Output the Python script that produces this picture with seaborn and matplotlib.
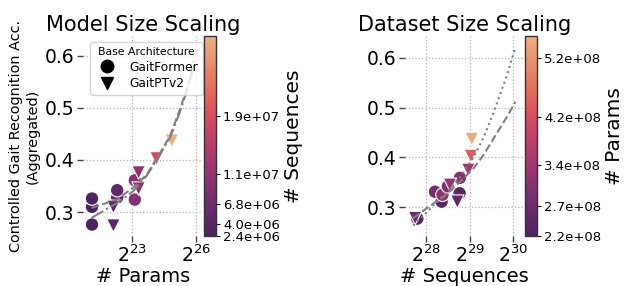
import matplotlib
matplotlib.use("Agg")
import matplotlib.pyplot as plt
from matplotlib.lines import Line2D
from matplotlib.colors import Normalize
from matplotlib.cm import ScalarMappable
from matplotlib.ticker import FormatStrFormatter
import seaborn as sns
import numpy as np
import pandas as pd

# ---- 左图 Model Size Scaling ----
arch_left = ['GaitFormer'] * 7 + ['GaitPTv2'] * 6
params_left = [2.3e6, 2.3e6, 2.3e6, 5.2e6, 5.2e6, 9.2e6, 9.2e6,
               4.6e6, 4.6e6, 1.04e7, 1.04e7, 1.86e7, 3.05e7]
acc_left = [0.276, 0.310, 0.326, 0.328, 0.342, 0.324, 0.361,
            0.274, 0.310, 0.345, 0.376, 0.403, 0.437]
# 拟合曲线
fit_x_left = [2**21.12, 2**22.29, 2**23.06, 2**23.69, 2**24.23, 2**24.78, 2**25.24, 2**25.71, 2**25.9]
fit_gf_left = [0.308, 0.324, 0.347, 0.372, 0.408, 0.446, 0.497, 0.555, 0.59]
fit_pt_left = [0.289, 0.317, 0.340, 0.370, 0.405, 0.443, 0.492, 0.552, 0.588]
cbar_ticks_left = [2.4e6, 4.0e6, 6.8e6, 1.1e7, 1.9e7]

# ---- 右图 Dataset Size Scaling ----
arch_right = ['GaitFormer'] * 7 + ['GaitPTv2'] * 6
seqs_right = [2.34e8, 3.44e8, 3.10e8, 3.49e8, 3.80e8, 4.58e8, 4.61e8,
              2.26e8, 3.93e8, 4.42e8, 5.26e8, 5.48e8, 5.56e8]
acc_right = [0.277, 0.311, 0.331, 0.325, 0.342, 0.328, 0.359,
             0.278, 0.345, 0.311, 0.375, 0.403, 0.437]
hue_right = [2.3e8, 2.35e8, 2.8e8, 3.2e8, 3.0e8, 2.4e8, 3.0e8,
             2.6e8, 3.3e8, 2.5e8, 3.4e8, 4.4e8, 5.5e8]
fit_x_right = [2**27.71, 2**28.02, 2**28.40, 2**28.78, 2**29.09, 2**29.32, 2**29.55, 2**29.86, 2**30.05]
fit_gf_right = [0.278, 0.298, 0.321, 0.351, 0.378, 0.405, 0.438, 0.482, 0.512]
fit_pt_right = [0.263, 0.290, 0.323, 0.360, 0.400, 0.440, 0.490, 0.566, 0.622]
cbar_ticks_right = [2.2e8, 2.7e8, 3.4e8, 4.2e8, 5.2e8]

cmap = sns.color_palette("flare_r", as_cmap=True)
markers = {'GaitFormer': 'o', 'GaitPTv2': 'v'}


def style_axes(ax):
    for s in ax.spines.values():
        s.set_visible(False)
    ax.set_facecolor('white')
    ax.grid(True, linestyle=':', color='#b5b5b5', linewidth=0.9)
    ax.tick_params(axis='both', which='major', length=4, width=1, color='#444444',
                   labelsize=13.5, pad=2)
    ax.minorticks_off()


def draw_panel(fig, rect, crect, x, y, hue, arch, norm, fit_x, fit_a, fit_b, ls_b,
               title, xlabel, clabel, cticks, xticks, xlim, ylim):
    ax = fig.add_axes(rect)
    df = pd.DataFrame({'x': x, 'y': y, 'hue': hue, 'arch': arch})
    sns.scatterplot(data=df, x='x', y='y', hue='hue', style='arch', markers=markers,
                    palette=cmap, hue_norm=norm, s=95, edgecolor='white', linewidth=0.8,
                    legend=False, ax=ax, zorder=3)
    ax.plot(fit_x, fit_a, linestyle='--', color='#808080', linewidth=1.5, zorder=4)
    ax.plot(fit_x, fit_b, linestyle=ls_b, color='#808080', linewidth=1.5, zorder=4)
    ax.set_xscale('log', base=2)
    ax.set_xticks(xticks)
    ax.set_xlim(*xlim)
    ax.set_ylim(*ylim)
    ax.set_yticks([0.3, 0.4, 0.5, 0.6])
    ax.set_yticklabels(['0.3', '0.4', '0.5', '0.6'])
    style_axes(ax)
    ax.set_title(title, fontsize=15, pad=4)
    ax.set_xlabel(xlabel, fontsize=14, labelpad=1)
    ax.set_ylabel('')

    cax = fig.add_axes(crect)
    sm = ScalarMappable(norm=norm, cmap=cmap)
    cb = fig.colorbar(sm, cax=cax)
    cb.set_ticks(cticks)
    cb.ax.yaxis.set_major_formatter(FormatStrFormatter('%.1e'))
    cb.ax.tick_params(labelsize=9.5, length=3, pad=2)
    cb.outline.set_edgecolor('#333333')
    cb.outline.set_linewidth(1)
    cb.set_label(clabel, fontsize=14.5, labelpad=3)
    return ax


fig = plt.figure(figsize=(6.3, 2.86), dpi=100)

ax1 = draw_panel(fig, [0.1317, 0.1748, 0.1905, 0.699], [0.3238, 0.1748, 0.019, 0.699],
                 params_left, acc_left, params_left, arch_left, Normalize(2.4e6, 3.0e7),
                 fit_x_left, fit_gf_left, fit_pt_left, '-.',
                 'Model Size Scaling', '# Params', '# Sequences', cbar_ticks_left,
                 [2**23, 2**26], (2**20.71, 2**26.32), (0.254, 0.638))
ax1.set_ylabel('Controlled Gait Recognition Acc.\n(Aggregated)', fontsize=10.4, labelpad=4)

handles = [Line2D([], [], marker='o', color='black', linestyle='', markersize=9),
           Line2D([], [], marker='v', color='black', linestyle='', markersize=9)]
leg = ax1.legend(handles, ['GaitFormer', 'GaitPTv2'], title='Base Architecture',
                 fontsize=8.8, title_fontsize=7.8, loc='upper right',
                 bbox_to_anchor=(1.0, 0.97), borderaxespad=0, handletextpad=0.8,
                 labelspacing=0.3)
leg.set_zorder(10)

ax2 = draw_panel(fig, [0.6429, 0.1748, 0.189, 0.699], [0.8333, 0.1748, 0.019, 0.699],
                 seqs_right, acc_right, hue_right, arch_right, Normalize(2.2e8, 5.56e8),
                 fit_x_right, fit_gf_right, fit_pt_right, ':',
                 'Dataset Size Scaling', '# Sequences', '# Params', cbar_ticks_right,
                 [2**28, 2**29, 2**30], (2**27.52, 2**30.25), (0.242, 0.644))

plt.savefig('out.png', dpi=100)
